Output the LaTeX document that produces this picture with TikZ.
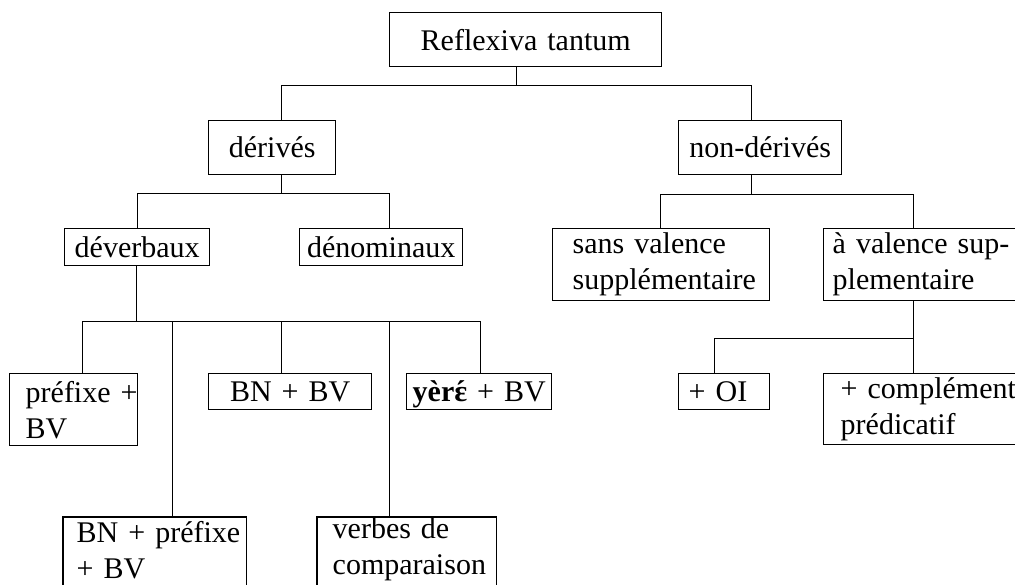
\documentclass[tikz,border=0pt]{standalone}
\usepackage{fontspec}
\setmainfont{Liberation Serif}
\newcommand{\epsacute}{\smash{\ooalign{ɛ\cr\hidewidth\char"00B4\hidewidth\cr}}}
\begin{document}
\begin{tikzpicture}[x=1pt,y=-1pt,
  box/.style={draw, line width=1.4pt, inner xsep=0pt, inner ysep=0pt, anchor=north west,
    font=\fontsize{30}{36}\selectfont},
  cbox/.style={box, align=center},
  lbox/.style={box, align=left,
    execute at begin node={\leftskip=#1\relax\rightskip=-40pt plus 1fil\relax}},
  wire/.style={line width=1.4pt}]
\useasboundingbox (0,0) rectangle (1015,585);
% level 0
\node[cbox, text width=272pt, minimum height=54pt] (root) at (389,12) {Reflexiva tantum};
% level 1
\node[cbox, text width=127pt, minimum height=54pt] (der) at (208,120) {dérivés};
\node[cbox, text width=163pt, minimum height=54pt] (nonder) at (678,120) {non-dérivés};
% level 2
\node[cbox, text width=145pt, minimum height=37pt] (dev) at (64,228) {déverbaux};
\node[cbox, text width=163pt, minimum height=37pt] (den) at (299,228) {dénominaux};
\node[lbox=20pt, text width=217pt, minimum height=72pt] (sans) at (552,228) {sans valence\\supplémentaire};
\node[lbox=9pt, text width=222pt, minimum height=72pt] (avec) at (823,228) {à valence sup-\\plementaire};
% level 3
\node[lbox=16pt, text width=128pt, minimum height=72pt] (pref) at (9,373) {préfixe +\\BV};
\node[cbox, text width=163pt, minimum height=36pt] (bnbv) at (208,373) {BN + BV};
\node[cbox, text width=145pt, minimum height=36pt] (yere) at (406,373) {\textbf{\smash{yèr}\epsacute} + BV};
\node[lbox=10pt, text width=91pt, minimum height=36pt] (oi) at (678,373) {+ OI};
\node[lbox=17pt, text width=222pt, minimum height=71pt] (comp) at (823,373) {+ complément\\prédicatif};
% level 4 (boxes run past the lower edge)
\node[lbox=13pt, draw=none, text width=182pt, minimum height=64pt] (bnpref) at (63,517) {BN + préfixe\\+ BV};
\node[lbox=15pt, draw=none, text width=178pt, minimum height=64pt] (verbes) at (317,517) {verbes de\\comparaison};
\draw[wire] (bnpref.north west) rectangle ([yshift=-20pt]bnpref.south east);
\draw[wire] (verbes.north west) rectangle ([yshift=-20pt]verbes.south east);
% connectors
\draw[wire] ([xshift=-9pt]root.south) -- ++(0,18) coordinate (j0);
\draw[wire] ([xshift=9.5pt]der.north) |- (j0) -| ([xshift=-8.5pt]nonder.north);
\draw[wire] ([xshift=9.5pt]der.south) -- ++(0,18) coordinate (j1);
\draw[wire] ([xshift=0.5pt]dev.north) |- (j1) -| ([xshift=8.5pt]den.north);
\draw[wire] ([xshift=-8.5pt]nonder.south) -- ++(0,19) coordinate (j2);
\draw[wire] ([xshift=-0.5pt]sans.north) |- (j2) -| ([xshift=-21pt]avec.north);
\draw[wire] ([xshift=-21pt]avec.south) -- ++(0,37) coordinate (j3);
\draw[wire] ([xshift=-9.5pt]oi.north) |- (j3) -- ([xshift=-21pt]comp.north);
\draw[wire] ([xshift=-0.5pt]dev.south) -- ++(0,55) coordinate (j4);
\draw[wire] ([xshift=9pt]pref.north) |- (j4) -| ([xshift=1.5pt]yere.north);
\draw[wire] ([xshift=-8.5pt]bnbv.north) -- ([xshift=-8.5pt]bnbv.north |- j4);
\draw[wire] ([xshift=18pt]bnpref.north) -- ([xshift=18pt]bnpref.north |- j4);
\draw[wire] ([xshift=-17pt]verbes.north) -- ([xshift=-17pt]verbes.north |- j4);
\end{tikzpicture}
\end{document}
